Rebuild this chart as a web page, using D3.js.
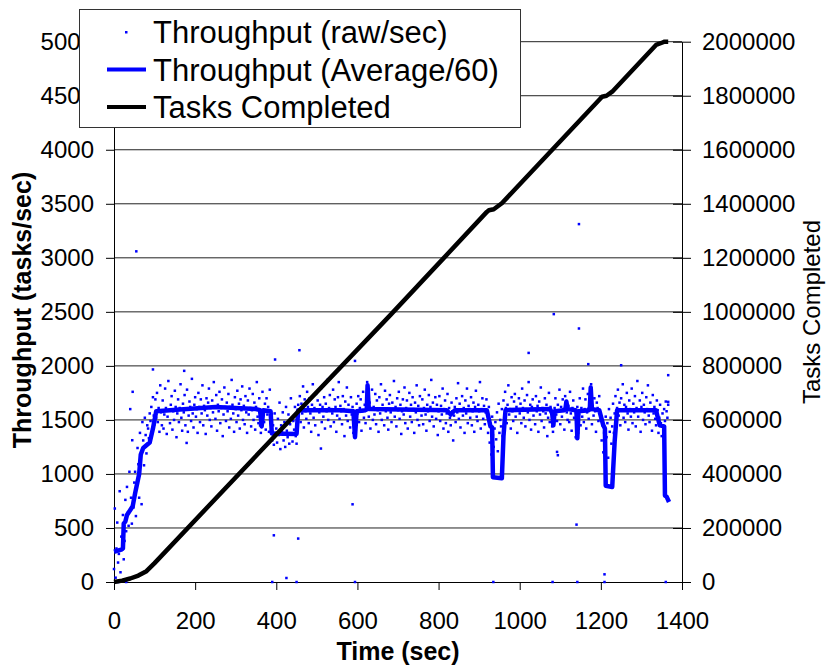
<!DOCTYPE html>
<meta charset="utf-8">
<head>
<script src="https://d3js.org/d3.v7.min.js"></script>
<style>
  body { margin: 0; background: #fff; }
  svg text { font-family: "Liberation Sans", Arial, sans-serif; fill: #000; }
</style>
</head>
<body>
<div id="chart"></div>
<script>
// raw throughput, one sample every 2 sec starting at t = 0
var rawStep = 2;
var rawValues = [
  120, 680, 40, 310, 550, 180, 260, 840, 90, 420, 300, 620, 210, 380, 760, 470, 880, 640, 520, 1020,
  1600, 780, 540, 1760, 690, 920, 1020, 610, 880, 1240, 1090, 780, 1380, 1150, 720, 1480, 1310, 1080, 1520, 1360,
  1190, 1450, 1420, 1330, 1560, 1490, 1620, 1380, 1710, 1540, 1460, 1690, 1520, 1750, 1480, 1610, 1390, 1820, 1570, 1450,
  1680, 1420, 1550, 1790, 1610, 1370, 1530, 1860, 1590, 1470, 1640, 1720, 1410, 1580, 1500, 1770, 1620, 1340, 1560, 1690,
  1480, 1610, 1830, 1520, 1400, 1650, 1570, 1730, 1450, 1600, 1780, 1390, 1540, 1670, 1620, 1490, 1880, 1560, 1430, 1640,
  1710, 1530, 1600, 1380, 1750, 1620, 1480, 1690, 1560, 1820, 1450, 1630, 1590, 1370, 1700, 1540, 1660, 1790, 1500, 1610,
  1440, 1680, 1570, 1850, 1620, 1510, 1730, 1400, 1640, 1580, 1760, 1470, 1610, 1690, 1350, 1550, 1800, 1620, 1490, 1660,
  1580, 1740, 1430, 1620, 1510, 1870, 1640, 1560, 1390, 1710, 1600, 1480, 1770, 1540, 1650, 1420, 1690, 1590, 1810, 1500,
  1630, 1460, 1720, 1570, 1380, 1680, 1550, 1790, 1610, 1440, 1590, 1740, 1500, 1660, 1410, 1620, 1850, 1530, 1470, 1700,
  1450, 1380, 1520, 1760, 1590, 1480, 1650, 1410, 1700, 1550, 1620, 1390, 1780, 1510, 1440, 1310, 1450, 1270, 1560, 1380,
  1420, 1290, 1510, 1360, 1660, 1230, 1450, 1390, 1570, 1310, 1480, 1250, 1620, 1400, 1340, 1550, 1280, 1460, 1700, 1370,
  1300, 1490, 1410, 1620, 1350, 1280, 1530, 1640, 1590, 1720, 1480, 1650, 1560, 1810, 1430, 1690, 1580, 1510, 1760, 1620,
  1470, 1700, 1560, 1390, 1640, 1830, 1520, 1610, 1450, 1740, 1590, 1680, 1360, 1570, 1640, 1790, 1480, 1620, 1530, 1710,
  1420, 1650, 1580, 1870, 1500, 1610, 1730, 1440, 1600, 1560, 1780, 1480, 1690, 1620, 1390, 1540, 1710, 1850, 1510, 1630,
  1580, 1460, 1720, 1600, 1350, 1670, 1540, 1800, 1490, 1640, 1580, 1430, 1710, 1550, 1620, 1380, 1470, 1340, 1500, 1650,
  1560, 1720, 1480, 1610, 1690, 1400, 1580, 1760, 1520, 1640, 1470, 1590, 1850, 1700, 1530, 1660, 1420, 1610, 1780, 1500,
  1620, 1550, 1740, 1460, 1680, 1590, 1390, 1710, 1560, 1830, 1500, 1640, 1600, 1450, 1770, 1580, 1690, 1520, 1410, 1650,
  1730, 1570, 1480, 1660, 1600, 1860, 1530, 1620, 1440, 1700, 1590, 1760, 1510, 1640, 1370, 1580, 1690, 1550, 1800, 1470,
  1610, 1680, 1420, 1590, 1750, 1530, 1640, 1480, 1710, 1600, 1380, 1660, 1570, 1820, 1500, 1630, 1450, 1720, 1590, 1540,
  1690, 1460, 1610, 1780, 1550, 1400, 1640, 1580, 1730, 1490, 1620, 1870, 1530, 1660, 1440, 1590, 1710, 1510, 1640, 1360,
  1580, 1720, 1490, 1630, 1550, 1790, 1420, 1600, 1680, 1470, 1560, 1740, 1390, 1610, 1520, 1450, 1660, 1580, 1310, 1540,
  1620, 1480, 1700, 1570, 1840, 1510, 1650, 1430, 1590, 1720, 1540, 1610, 1380, 1680, 1560, 1790, 1470, 1630, 1600, 1520,
  1710, 1450, 1580, 1660, 1390, 1620, 1770, 1530, 1490, 1640, 1580, 1850, 1420, 1600, 1700, 1510, 1630, 1460, 1570, 1690,
  1540, 1380, 1620, 1290, 1450, 1180, 1530, 1360, 1250, 1420, 1480, 1320, 1570, 1210, 1650, 1380, 1500, 1440, 1600, 1350,
  1680, 1530, 1760, 1610, 1470, 1640, 1820, 1550, 1600, 1420, 1710, 1580, 1490, 1670, 1740, 1530, 1620, 1380, 1590, 1700,
  1560, 1650, 1470, 1790, 1610, 1520, 1680, 1440, 1600, 1730, 1570, 1850, 1500, 1640, 1410, 1620, 1690, 1540, 1600, 1460,
  1720, 1580, 1630, 1390, 1670, 1550, 1800, 1490, 1610, 1580, 1430, 1700, 1560, 1640, 1350, 1520, 1750, 1480, 1620, 1570,
  1440, 1390, 1520, 1610, 1700, 1550, 1490, 1640, 1580, 1780, 1460, 1620, 1530, 1690, 1600, 1410, 1720, 1650, 1570, 1500,
  1630, 1480, 1760, 1560, 1400, 1610, 1680, 1520, 1590, 1340, 1470, 1620, 1380, 1560, 1700, 1450, 1610, 1530, 1790, 1480,
  1600, 1690, 1420, 1570, 1740, 1510, 1650, 1590, 1830, 1460, 1620, 1540, 1700, 1580, 1390, 1660, 1610, 1490, 1720, 1560,
  1500, 1310, 1450, 1200, 1380, 1260, 1530, 1340, 1470, 1150, 1600, 1390, 1520, 1280, 1440, 1650, 1380, 1560, 1720, 1490,
  1610, 1780, 1540, 1660, 1450, 1700, 1590, 1830, 1520, 1640, 1480, 1620, 1750, 1560, 1410, 1680, 1600, 1530, 1790, 1470,
  1650, 1570, 1720, 1440, 1610, 1860, 1530, 1590, 1680, 1390, 1620, 1750, 1500, 1640, 1570, 1460, 1710, 1600, 1820, 1540,
  1480, 1660, 1590, 1400, 1730, 1560, 1620, 1510, 1450, 1680, 1590, 1380, 1520, 1640, 1470, 1350, 1560, 1420, 1600, 1490,
  1670, 1580, 1520, 1640
];

// stray raw samples [time, tasks/sec]
var rawExtra = [
  [10, 0], [30, 0], [45, 1312], [55, 3060], [96, 1967], [173, 1954], [179, 1287],
  [390, 0], [394, 432], [397, 2059], [425, 37], [450, 0], [454, 402], [457, 2145],
  [510, 1235], [588, 719], [594, 0], [594, 2046], [935, 0], [1022, 2120],
  [1081, 0], [1084, 2479], [1092, 1204], [1094, 1173], [1140, 531], [1142, 0],
  [1146, 3312], [1146, 2346], [1169, 2016], [1209, 0], [1209, 71], [1250, 2006],
  [1360, 0], [1366, 1914], [1366, 1667]
];

// moving average (60)
var avgTime = [0, 18, 22, 24, 28, 32, 46, 52, 62, 66, 72, 88, 96, 104, 180, 250, 350, 360, 364, 368,
  386, 389, 450, 454, 560, 590, 594, 598, 620, 623, 625, 628, 632, 820, 830, 840, 919, 928, 932, 934,
  956, 960, 965, 1075, 1080, 1083, 1086, 1110, 1113, 1115, 1118, 1138, 1140, 1142, 1145, 1170, 1173, 1175, 1178, 1196,
  1206, 1210, 1212, 1228, 1234, 1240, 1336, 1345, 1356, 1358, 1362, 1368];
var avgValue = [280, 300, 310, 540, 560, 620, 700, 820, 1000, 1180, 1240, 1290, 1420, 1580, 1600, 1620, 1600, 1590, 1440, 1590,
  1580, 1375, 1370, 1590, 1590, 1580, 1340, 1580, 1590, 1600, 1820, 1600, 1600, 1590, 1550, 1590, 1590, 1440, 1430, 970,
  960, 1350, 1590, 1600, 1560, 1450, 1580, 1590, 1610, 1670, 1600, 1590, 1560, 1330, 1580, 1590, 1620, 1800, 1600, 1590,
  1450, 1420, 890, 880, 1300, 1590, 1590, 1450, 1440, 800, 790, 740];

// cumulative tasks completed
var taskTime = [0, 20, 40, 60, 80, 100, 410, 681, 812, 919, 924, 936, 956, 1199, 1203, 1214, 1228, 1336, 1352, 1357, 1366];
var taskValue = [0, 5000, 13000, 24000, 40000, 70000, 562000, 988000, 1198000, 1370000, 1376000, 1380000, 1402000,
  1790000, 1796000, 1800000, 1815000, 1988000, 1997000, 2000000, 2000000];

var xTicks = [0, 200, 400, 600, 800, 1000, 1200, 1400];
var yTicks = [0, 500, 1000, 1500, 2000, 2500, 3000, 3500, 4000, 4500, 5000];
var y2Ticks = [0, 200000, 400000, 600000, 800000, 1000000, 1200000, 1400000, 1600000, 1800000, 2000000];

var legendLabels = ["Throughput (raw/sec)", "Throughput (Average/60)", "Tasks Completed"];

var margin = {top: 41.7, right: 144, bottom: 86, left: 114},
    width = 826 - margin.left - margin.right,
    height = 668 - margin.top - margin.bottom;

var svg = d3.select("#chart")
  .append("svg")
    .attr("width", 826)
    .attr("height", 668);

var g = svg.append("g")
    .attr("transform", "translate(" + margin.left + "," + margin.top + ")");

var x = d3.scaleLinear().domain([0, 1400]).range([0, width]);
var y = d3.scaleLinear().domain([0, 5000]).range([height, 0]);
var y2 = d3.scaleLinear().domain([0, 2000000]).range([height, 0]);

// grid
g.selectAll(".grid")
  .data(yTicks.slice(1))
  .enter().append("line")
    .attr("x1", 0).attr("x2", width)
    .attr("y1", function(d) { return y(d); })
    .attr("y2", function(d) { return y(d); })
    .attr("stroke", "#222")
    .attr("stroke-width", 1);

// axes
var fmt = d3.format("d");
var xAxis = g.append("g")
  .attr("transform", "translate(0," + height + ")")
  .call(d3.axisBottom(x).tickValues(xTicks).tickFormat(fmt).tickSize(8).tickPadding(22).tickSizeOuter(0));

var yAxis = g.append("g")
  .call(d3.axisLeft(y).tickValues(yTicks).tickFormat(fmt).tickSize(8).tickPadding(12).tickSizeOuter(0));

var y2Axis = g.append("g")
  .attr("transform", "translate(" + width + ",0)")
  .call(d3.axisRight(y2).tickValues(y2Ticks).tickFormat(fmt).tickSize(9).tickPadding(11).tickSizeOuter(0));
y2Axis.selectAll(".tick line").attr("x1", -9);

[xAxis, yAxis, y2Axis].forEach(function(a) {
  a.selectAll("path").attr("stroke", "#000");
  a.selectAll("line").attr("stroke", "#000");
  a.selectAll("text")
    .style("font-size", "24px")
    .style("font-family", "'Liberation Sans', Arial, sans-serif")
    .attr("fill", "#000");
});

// raw points
var rawPoints = rawValues.map(function(v, i) { return [i * rawStep, v]; }).concat(rawExtra);
g.append("g").selectAll("rect")
  .data(rawPoints)
  .enter().append("rect")
    .attr("x", function(d) { return x(d[0]) - 1.25; })
    .attr("y", function(d) { return y(d[1]) - 1.25; })
    .attr("width", 2.5)
    .attr("height", 2.5)
    .attr("fill", "#0000ff");

// average line
var avgLine = d3.line()
  .x(function(d, i) { return x(avgTime[i]); })
  .y(function(d) { return y(d); });
g.append("path")
  .attr("d", avgLine(avgValue))
  .attr("fill", "none")
  .attr("stroke", "#0000ff")
  .attr("stroke-width", 4.5)
  .attr("stroke-linejoin", "round");

// tasks completed
var taskLine = d3.line()
  .x(function(d, i) { return x(taskTime[i]); })
  .y(function(d) { return y2(d); });
g.append("path")
  .attr("d", taskLine(taskValue))
  .attr("fill", "none")
  .attr("stroke", "#000")
  .attr("stroke-width", 4.5)
  .attr("stroke-linejoin", "round");

// axis titles
svg.append("text")
  .attr("x", margin.left + width / 2)
  .attr("y", 660)
  .attr("text-anchor", "middle")
  .style("font-size", "25px")
  .style("font-weight", "bold")
  .text("Time (sec)");

svg.append("text")
  .attr("transform", "translate(31,310) rotate(-90)")
  .attr("text-anchor", "middle")
  .style("font-size", "25px")
  .style("font-weight", "bold")
  .text("Throughput (tasks/sec)");

svg.append("text")
  .attr("transform", "translate(820,312) rotate(-90)")
  .attr("text-anchor", "middle")
  .style("font-size", "24px")
  .text("Tasks Completed");

// legend
var legend = svg.append("g");
legend.append("rect")
  .attr("x", 79.5).attr("y", 9.5)
  .attr("width", 441).attr("height", 118)
  .attr("fill", "#fff")
  .attr("stroke", "#333")
  .attr("stroke-width", 1);

legendLabels.forEach(function(label, i) {
  var cy = 32 + i * 37.5;
  if (i === 0) {
    legend.append("rect")
      .attr("x", 125).attr("y", cy - 1)
      .attr("width", 2.5).attr("height", 2.5)
      .attr("fill", "#0000ff");
  } else {
    legend.append("line")
      .attr("x1", 107).attr("x2", 146)
      .attr("y1", cy).attr("y2", cy)
      .attr("stroke", i === 1 ? "#0000ff" : "#000")
      .attr("stroke-width", 4);
  }
  legend.append("text")
    .attr("x", 153)
    .attr("y", cy + 11)
    .style("font-size", "31px")
    .text(label);
});
</script>
</body>
